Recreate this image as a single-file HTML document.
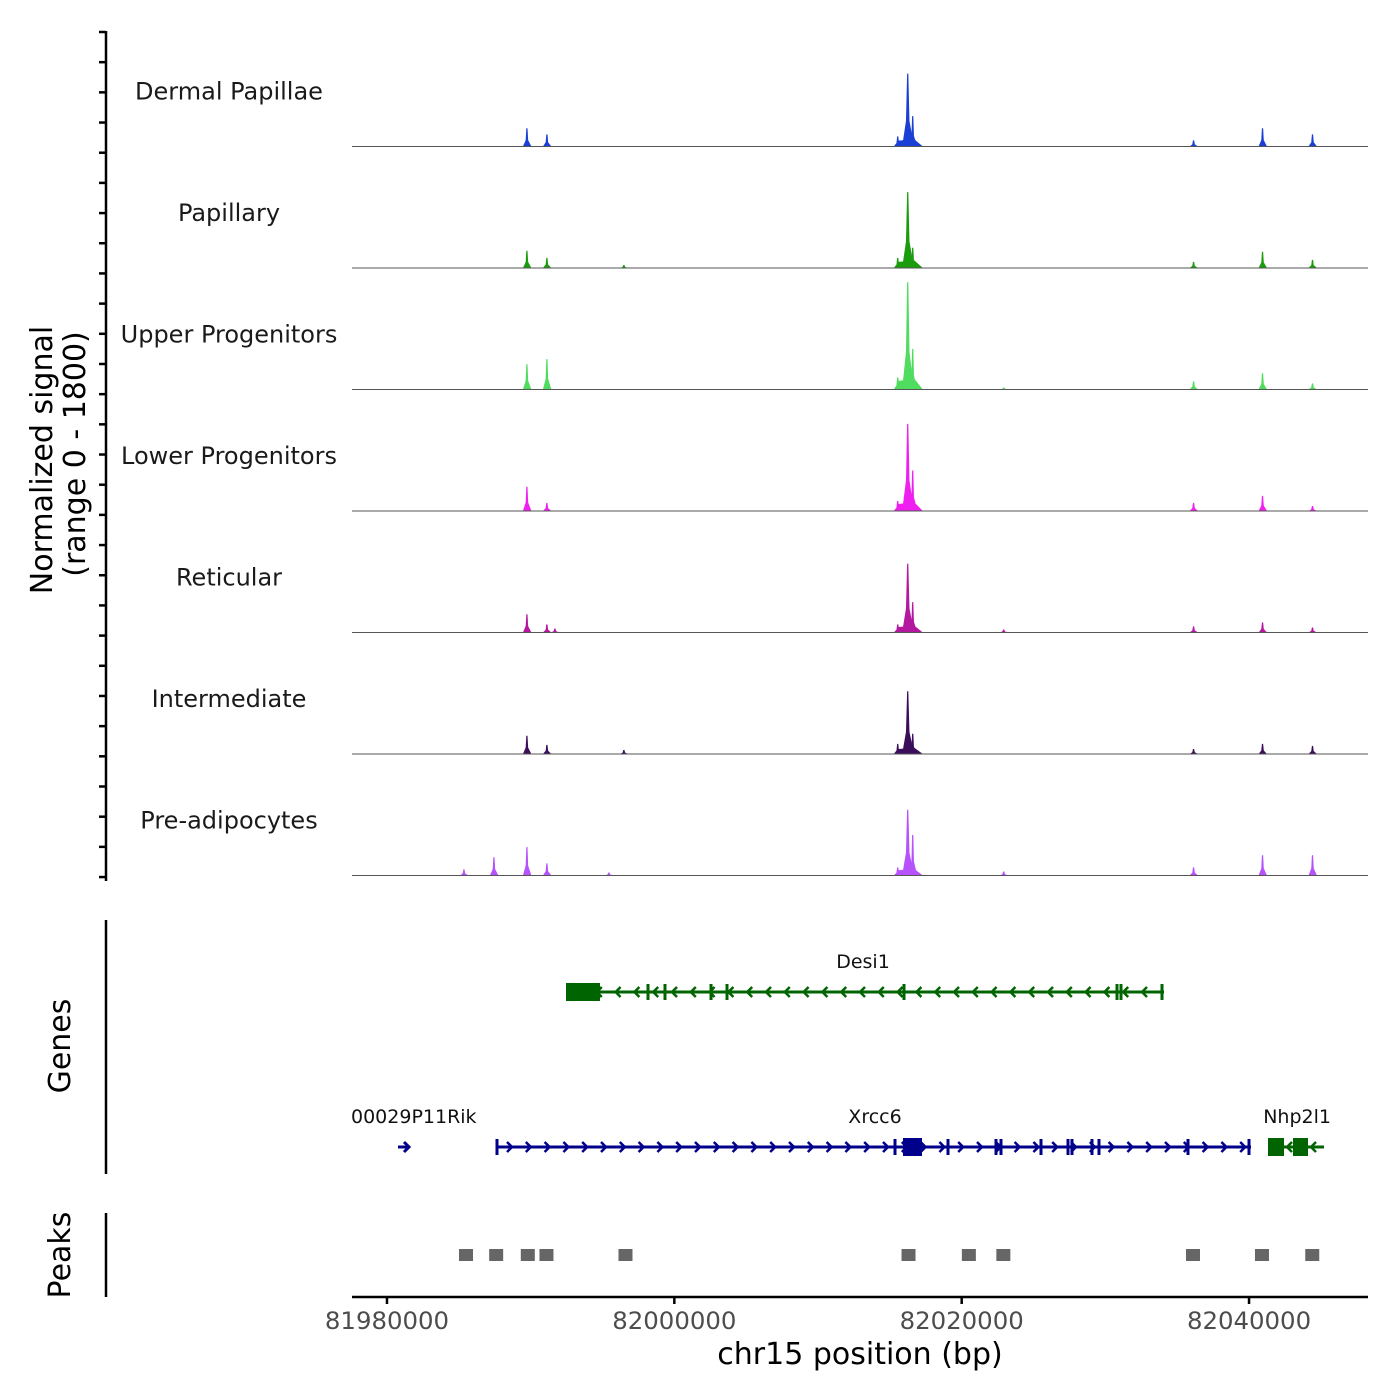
<!DOCTYPE html>
<html><head><meta charset="utf-8"><style>
html,body{margin:0;padding:0;background:#fff;}
svg{display:block;font-family:"DejaVu Sans","Liberation Sans",sans-serif;}
</style></head><body>
<svg id="chart" width="1400" height="1400" viewBox="0 0 1400 1400" xmlns="http://www.w3.org/2000/svg">
<g id="tracks"></g>
<g id="genes"></g>
<g id="peaks"></g>
<g id="axes"></g>
</svg>
<script>
const trackNames = ["Dermal Papillae","Papillary","Upper Progenitors","Lower Progenitors","Reticular","Intermediate","Pre-adipocytes"];
const trackColors = ["#1a3fd4","#1a9c0c","#4fdc5f","#ef1ff0","#b3189e","#3a0e5a","#b651fb"];
const peakPositions = [81985357,81987443,81989739,81991130,81991687,81995443,81996487,82015548,82016244,82016591,82022922,82036139,82040939,82044417];
const dpHeights  = [0,0,270,180,0,0,0,150,1080,450,0,90,270,180];
const papHeights = [0,0,255,150,0,0,45,150,1125,300,0,90,240,120];
const upHeights  = [0,0,375,450,0,0,0,180,1590,600,30,120,240,90];
const lowHeights = [0,0,360,120,0,0,0,150,1290,600,0,120,225,75];
const retHeights = [0,0,270,120,60,0,0,120,1020,450,45,90,150,75];
const intHeights = [0,0,270,135,0,0,60,150,930,300,0,75,150,120];
const preHeights = [90,270,420,180,0,45,0,120,975,600,60,120,300,300];
const allHeights = [dpHeights,papHeights,upHeights,lowHeights,retHeights,intHeights,preHeights];
const xTicks = [81980000,82000000,82020000,82040000];
const peakRegions = [81985500,81987600,81989800,81991100,81996600,82016300,82020500,82022900,82036100,82040900,82044400];
const xDomain = [81977565, 82048280];
const yMax = 1800;

const NS="http://www.w3.org/2000/svg";
function mk(tag, attrs, parent){const e=document.createElementNS(NS,tag);for(const k in attrs)e.setAttribute(k,attrs[k]);parent.appendChild(e);return e;}
const X0=352,X1=1368;
function xs(bp){return X0+(bp-xDomain[0])/(xDomain[1]-xDomain[0])*(X1-X0);}
const trackTop=25, trackH=121.5;
function ys(v,i){const base=trackTop+(i+1)*trackH;return base - v/yMax*trackH;}

const tracks=document.getElementById('tracks');
allHeights.forEach((hs,i)=>{
  const base=ys(0,i);
  const g=mk('g',{},tracks);
  
  
  const lab=mk('text',{x:229,y:base-47,'text-anchor':'middle','font-size':24,fill:'#1a1a1a'},g);
  lab.textContent=trackNames[i];
  
  
  const main=hs[8];
  const sh=mk('path',{d:`M${xs(82015400)},${base} L${xs(82015600)},${ys(main*0.08,i)} L${xs(82016700)},${ys(main*0.1,i)} L${xs(82017300)},${base} Z`,fill:trackColors[i]},g);
  
  
  hs.forEach((h,j)=>{
    if(h<=0)return;
    const cx=xs(peakPositions[j]);const w=j===8?3.5:2.5;
    const p=mk('path',{d:`M${cx-w*1.6},${base} L${cx-w*0.5},${ys(h*0.35,i)} L${cx-0.6},${ys(h,i)} L${cx+0.6},${ys(h,i)} L${cx+w*0.5},${ys(h*0.35,i)} L${cx+w*1.8},${base} Z`,fill:trackColors[i]},g);
    
    
  });
  const bl=mk('line',{x1:X0,x2:X1,y1:base,y2:base,stroke:'#555','stroke-width':1},g);
  
  
});

const genes=document.getElementById('genes');
function gene(name,color,y,x1,x2,dir,boxes,ticks,labelX,labelAnchor){
  const g=mk('g',{},genes);
  
  
  mk('line',{x1:x1,x2:x2,y1:y,y2:y,stroke:color,'stroke-width':3},g);
  for(let x=x1+14;x<x2-6;x+=18.8){
    const d=dir>0?`M${x-3},${y-5} L${x+2},${y} L${x-3},${y+5}`:`M${x+3},${y-5} L${x-2},${y} L${x+3},${y+5}`;
    mk('path',{d:d,stroke:color,'stroke-width':2.5,fill:'none'},g);
  }
  boxes.forEach(b=>mk('rect',{x:b[0],y:y-9,width:b[1]-b[0],height:18,fill:color},g));
  ticks.forEach(t=>mk('rect',{x:t-1.5,y:y-8,width:3,height:16,fill:color},g));
  const t=mk('text',{x:labelX,y:y-24,'text-anchor':labelAnchor,'font-size':19,fill:'#111'},g);
  t.textContent=name;
}
gene('Desi1','#006400',992,566,1164,-1,[[566,600]],[648,665,711,727,904,1117,1121,1162],863,'middle');
gene('Xrcc6','#00008b',1147,496,1251,1,[[903,922]],[497,895,948,996,1001,1041,1068,1072,1092,1099,1188,1249],875,'middle');
const r=mk('g',{},genes);
mk('path',{d:'M398,1147 L409,1147 M404,1142 L409,1147 L404,1152',stroke:'#00008b','stroke-width':3,fill:'none'},r);
const rt=mk('text',{x:351,y:1123,'font-size':19,fill:'#111'},r);rt.textContent='00029P11Rik';
const n=mk('g',{},genes);
mk('line',{x1:1268,x2:1324,y1:1147,y2:1147,stroke:'#006400','stroke-width':3},n);
mk('rect',{x:1268,y:1138,width:16,height:18,fill:'#006400'},n);
mk('rect',{x:1293,y:1138,width:15,height:18,fill:'#006400'},n);
mk('path',{d:'M1292,1142 L1287,1147 L1292,1152 M1316,1142 L1311,1147 L1316,1152',stroke:'#006400','stroke-width':2.5,fill:'none'},n);
const nt=mk('text',{x:1331,y:1123,'text-anchor':'end','font-size':19,fill:'#111'},n);nt.textContent='Nhp2l1';

const peaks=document.getElementById('peaks');
peakRegions.forEach(p=>{
  const e=mk('rect',{x:xs(p)-7,y:1249,width:14,height:12,fill:'#666666'},peaks);
  
  
});

const axes=document.getElementById('axes');
mk('line',{x1:106,x2:106,y1:31,y2:881,stroke:'#000','stroke-width':2.5},axes);
for(let k=0;k<=28;k++){const y=32+k*30.18;mk('line',{x1:99,x2:106,y1:y,y2:y,stroke:'#000','stroke-width':2.5},axes);}
mk('line',{x1:106,x2:106,y1:920,y2:1174,stroke:'#000','stroke-width':2.5},axes);
mk('line',{x1:106,x2:106,y1:1213,y2:1297,stroke:'#000','stroke-width':2.5},axes);
mk('line',{x1:X0,x2:X1,y1:1297,y2:1297,stroke:'#000','stroke-width':2.5},axes);
xTicks.forEach(t=>{
  const x=xs(t);
  mk('line',{x1:x,x2:x,y1:1297,y2:1304,stroke:'#000','stroke-width':2.5},axes);
  const tl=mk('text',{x:x,y:1329,'text-anchor':'middle','font-size':24.4,fill:'#4d4d4d'},axes);
  tl.textContent=t;
  
  
});
function txt(s,x,y,size,rot,name){const t=mk('text',{x:x,y:y,'text-anchor':'middle','font-size':size,fill:'#000',transform:rot?`rotate(-90 ${x} ${y})`:''},axes);t.textContent=s;}
txt('chr15 position (bp)',860,1364,30,false,'x-axis-title');
txt('Normalized signal',52,460,30,true,'y-axis-title');
txt('(range 0 - 1800)',85,454,30,true,'y-axis-subtitle');
txt('Genes',70,1046,30,true,'genes-axis-title');
txt('Peaks',70,1255,30,true,'peaks-axis-title');
</script>
</body></html>
